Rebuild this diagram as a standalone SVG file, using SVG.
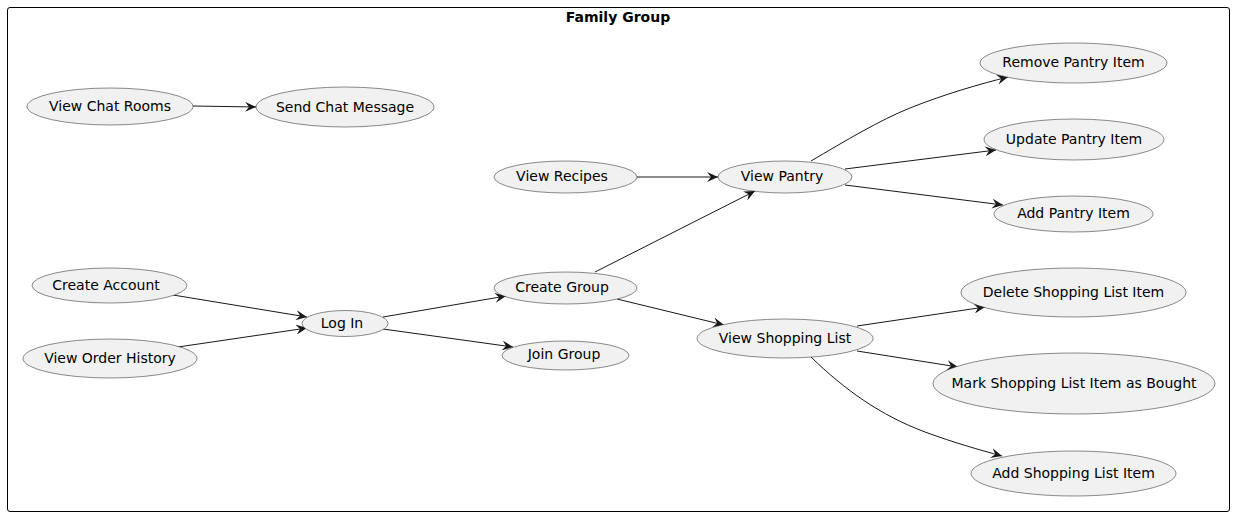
<svg xmlns="http://www.w3.org/2000/svg" width="1235" height="517" viewBox="0 0 1235 517">
<defs>
<style>
.uc ellipse{fill:#F1F1F1;stroke:#181818;stroke-width:0.5}
.uc text{font-family:"DejaVu Sans",sans-serif;font-size:14px;fill:#000;text-anchor:middle}
.edges path{fill:none;stroke:#181818;stroke-width:1}
</style>
<marker id="arr" viewBox="0 0 12 10" refX="11" refY="5" markerWidth="12" markerHeight="10" markerUnits="userSpaceOnUse" orient="auto">
<path d="M0,0 L11,5 L0,10 L4,5 Z" fill="#181818"/>
</marker>
</defs>
<rect x="7.5" y="7.5" width="1222" height="504" rx="2.5" ry="2.5" fill="none" stroke="#000" stroke-width="1"/>
<text x="618" y="22" font-family="DejaVu Sans,sans-serif" font-size="14" font-weight="bold" text-anchor="middle">Family Group</text>
<g class="edges">
<path d="M193,106 L256,107" marker-end="url(#arr)"/>
<path d="M173,295 L307,317" marker-end="url(#arr)"/>
<path d="M178,347 L307,328" marker-end="url(#arr)"/>
<path d="M383,317 L506,296" marker-end="url(#arr)"/>
<path d="M383,329 L513,347" marker-end="url(#arr)"/>
<path d="M595,272 L755,191" marker-end="url(#arr)"/>
<path d="M617,299 L724,325" marker-end="url(#arr)"/>
<path d="M637,177 L718,177" marker-end="url(#arr)"/>
<path d="M811,161 C845,141 880,120 910,108 C945,94 980,84 1008,77" marker-end="url(#arr)"/>
<path d="M845,169 L996,150" marker-end="url(#arr)"/>
<path d="M845,185 L1003,205" marker-end="url(#arr)"/>
<path d="M857,326 L985,307" marker-end="url(#arr)"/>
<path d="M857,351 L958,367" marker-end="url(#arr)"/>
<path d="M811,357 C845,390 880,415 925,432 C955,443 980,450 1002,456" marker-end="url(#arr)"/>
</g>
<g class="uc" id="view-chat-rooms"><ellipse cx="110" cy="106.5" rx="83" ry="18.5"/><text x="110" y="111">View Chat Rooms</text></g>
<g class="uc" id="send-chat-message"><ellipse cx="345" cy="107" rx="89" ry="20"/><text x="345" y="112">Send Chat Message</text></g>
<g class="uc" id="create-account"><ellipse cx="109.5" cy="285.5" rx="77.5" ry="17.5"/><text x="106" y="290">Create Account</text></g>
<g class="uc" id="view-order-history"><ellipse cx="110" cy="358.5" rx="87" ry="19.5"/><text x="110" y="363">View Order History</text></g>
<g class="uc" id="log-in"><ellipse cx="345" cy="323.5" rx="43" ry="13"/><text x="342" y="328">Log In</text></g>
<g class="uc" id="create-group"><ellipse cx="565.5" cy="288" rx="71.5" ry="16"/><text x="562" y="292">Create Group</text></g>
<g class="uc" id="join-group"><ellipse cx="565.5" cy="355.5" rx="63.5" ry="14.5"/><text x="564" y="359">Join Group</text></g>
<g class="uc" id="view-recipes"><ellipse cx="565.5" cy="177" rx="71.5" ry="16"/><text x="562" y="181">View Recipes</text></g>
<g class="uc" id="view-pantry"><ellipse cx="785" cy="177" rx="67" ry="16"/><text x="782" y="181">View Pantry</text></g>
<g class="uc" id="view-shopping-list"><ellipse cx="785" cy="338.5" rx="88" ry="19.5"/><text x="785" y="343">View Shopping List</text></g>
<g class="uc" id="remove-pantry-item"><ellipse cx="1073.5" cy="63" rx="93.5" ry="20"/><text x="1073.5" y="67">Remove Pantry Item</text></g>
<g class="uc" id="update-pantry-item"><ellipse cx="1074" cy="139.5" rx="90" ry="20.5"/><text x="1074" y="144">Update Pantry Item</text></g>
<g class="uc" id="add-pantry-item"><ellipse cx="1073.5" cy="214" rx="79.5" ry="18"/><text x="1073.5" y="218">Add Pantry Item</text></g>
<g class="uc" id="delete-shopping-list-item"><ellipse cx="1073.5" cy="292.5" rx="112.5" ry="24.5"/><text x="1073.5" y="297">Delete Shopping List Item</text></g>
<g class="uc" id="mark-shopping-list-item-as-bought"><ellipse cx="1074" cy="383.5" rx="141" ry="30.5"/><text x="1074" y="388">Mark Shopping List Item as Bought</text></g>
<g class="uc" id="add-shopping-list-item"><ellipse cx="1073.5" cy="473.5" rx="102.5" ry="22.5"/><text x="1073.5" y="478">Add Shopping List Item</text></g>
</svg>
